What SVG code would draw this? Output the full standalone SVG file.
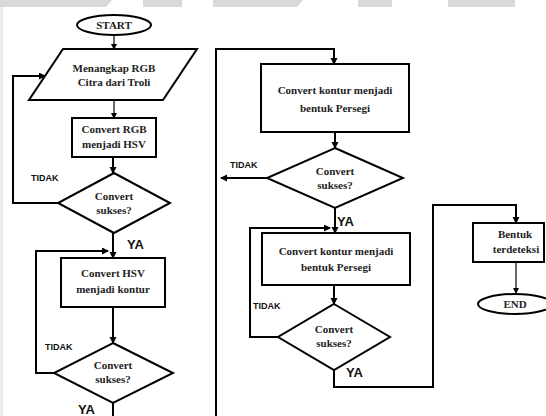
<svg xmlns="http://www.w3.org/2000/svg" width="546" height="416" viewBox="0 0 546 416">
  <defs>
    <marker id="arr" markerUnits="userSpaceOnUse" markerWidth="8" markerHeight="8" refX="6" refY="3.5" orient="auto">
      <path d="M0,0 L7,3.5 L0,7 Z" fill="#000"/>
    </marker>
    <marker id="arrs" markerUnits="userSpaceOnUse" markerWidth="7" markerHeight="7" refX="5" refY="3" orient="auto">
      <path d="M0,0 L6,3 L0,6 Z" fill="#000"/>
    </marker>
  </defs>
  <style>
    .shape { fill: #fff; stroke: #000; stroke-width: 2; }
    .node { font-family: "Liberation Serif", "Times New Roman", serif; font-weight: bold; font-size: 11px; fill: #222; text-anchor: middle; }
    .lbl { font-family: "Liberation Sans", Arial, sans-serif; font-weight: bold; fill: #111; }
    .tidak { font-size: 9px; }
    .ya { font-size: 13px; }
    .wire { fill: none; stroke: #000; stroke-width: 2; }
    .thin { fill: none; stroke: #000; stroke-width: 1.2; }
  </style>

  <rect width="546" height="416" fill="#fff"/>

  <!-- faint header band -->
  <g fill="#d9d9d9">
    <path d="M0,0 H112 L106,7 H0 Z"/>
    <rect x="143" y="0" width="39" height="7"/>
    <path d="M213,0 H303 L297,7 H213 Z"/>
    <rect x="358" y="0" width="34" height="7"/>
    <rect x="448" y="0" width="67" height="7"/>
  </g>
  <rect x="0" y="7" width="3" height="409" fill="#ececec"/>

  <!-- connectors -->
  <g id="connectors">
    <path class="thin" d="M114,35 V49" marker-end="url(#arrs)"/>
    <path class="thin" d="M114,100 V118" marker-end="url(#arrs)"/>
    <path class="wire" d="M113,157 V173" marker-end="url(#arr)"/>
    <path class="wire" d="M58,203 H13 V76 H45" marker-end="url(#arr)"/>
    <path class="wire" d="M113,233 V258" marker-end="url(#arr)"/>
    <path class="wire" d="M55,373 H36 V251 H108" marker-end="url(#arr)"/>
    <path class="wire" d="M113,307 V343" marker-end="url(#arr)"/>
    <path class="wire" d="M113,403 V416"/>
    <path class="wire" d="M216,416 V49 H334 V64" marker-end="url(#arr)"/>
    <path class="wire" d="M335,132 V148" marker-end="url(#arr)"/>
    <path class="wire" d="M267,178 H221" marker-end="url(#arr)"/>
    <path class="wire" d="M335,208 V233" marker-end="url(#arr)"/>
    <path class="wire" d="M278,337 H250 V228 H330" marker-end="url(#arr)"/>
    <path class="wire" d="M334,285 V304" marker-end="url(#arr)"/>
    <path class="wire" d="M334,370 V387 H433 V205 H516 V223" marker-end="url(#arr)"/>
    <path class="thin" d="M516,262 V293" marker-end="url(#arrs)"/>
  </g>

  <!-- labels on branches -->
  <g id="branch-labels">
    <text class="lbl tidak" x="31" y="181">TIDAK</text>
    <text class="lbl ya" x="127" y="249">YA</text>
    <text class="lbl tidak" x="45" y="350">TIDAK</text>
    <text class="lbl ya" x="78" y="414">YA</text>
    <text class="lbl tidak" x="230" y="168">TIDAK</text>
    <text class="lbl ya" x="337" y="226">YA</text>
    <text class="lbl tidak" x="253" y="309">TIDAK</text>
    <text class="lbl ya" x="346" y="377">YA</text>
  </g>

  <g id="start">
    <ellipse class="shape" cx="114" cy="25" rx="37" ry="10"/>
    <text class="node" x="114" y="29">START</text>
  </g>

  <g id="capture">
    <polygon class="shape" points="63,49 197,49 163,100 29,100"/>
    <text class="node" x="114" y="72">Menangkap RGB</text>
    <text class="node" x="114" y="86">Citra dari Troli</text>
  </g>

  <g id="rgb-to-hsv">
    <rect class="shape" x="72" y="118" width="84" height="39"/>
    <text class="node" x="114" y="133">Convert RGB</text>
    <text class="node" x="114" y="148">menjadi HSV</text>
  </g>

  <g id="check-1">
    <polygon class="shape" points="114,173 170,203 114,233 58,203"/>
    <text class="node" x="114" y="200">Convert</text>
    <text class="node" x="114" y="214">sukses?</text>
  </g>

  <g id="hsv-to-contour">
    <rect class="shape" x="61" y="258" width="104" height="49"/>
    <text class="node" x="113" y="277">Convert HSV</text>
    <text class="node" x="113" y="293">menjadi kontur</text>
  </g>

  <g id="check-2">
    <polygon class="shape" points="113,343 173,373 113,403 54,373"/>
    <text class="node" x="113" y="369">Convert</text>
    <text class="node" x="113" y="383">sukses?</text>
  </g>

  <g id="contour-to-square-1">
    <rect class="shape" x="261" y="64" width="148" height="68"/>
    <text class="node" x="335" y="94">Convert kontur menjadi</text>
    <text class="node" x="335" y="112">bentuk Persegi</text>
  </g>

  <g id="check-3">
    <polygon class="shape" points="335,148 403,178 335,208 267,178"/>
    <text class="node" x="335" y="175">Convert</text>
    <text class="node" x="335" y="189">sukses?</text>
  </g>

  <g id="contour-to-square-2">
    <rect class="shape" x="262" y="233" width="148" height="52"/>
    <text class="node" x="336" y="255">Convert kontur menjadi</text>
    <text class="node" x="336" y="271">bentuk Persegi</text>
  </g>

  <g id="check-4">
    <polygon class="shape" points="334,304 390,337 334,370 278,337"/>
    <text class="node" x="334" y="333">Convert</text>
    <text class="node" x="334" y="347">sukses?</text>
  </g>

  <g id="detected">
    <rect class="shape" x="473" y="223" width="71" height="39"/>
    <text class="node" x="515" y="238">Bentuk</text>
    <text class="node" x="516" y="253">terdeteksi</text>
  </g>

  <g id="end">
    <ellipse class="shape" cx="515" cy="304" rx="37" ry="10"/>
    <text class="node" x="515" y="308">END</text>
  </g>
</svg>
